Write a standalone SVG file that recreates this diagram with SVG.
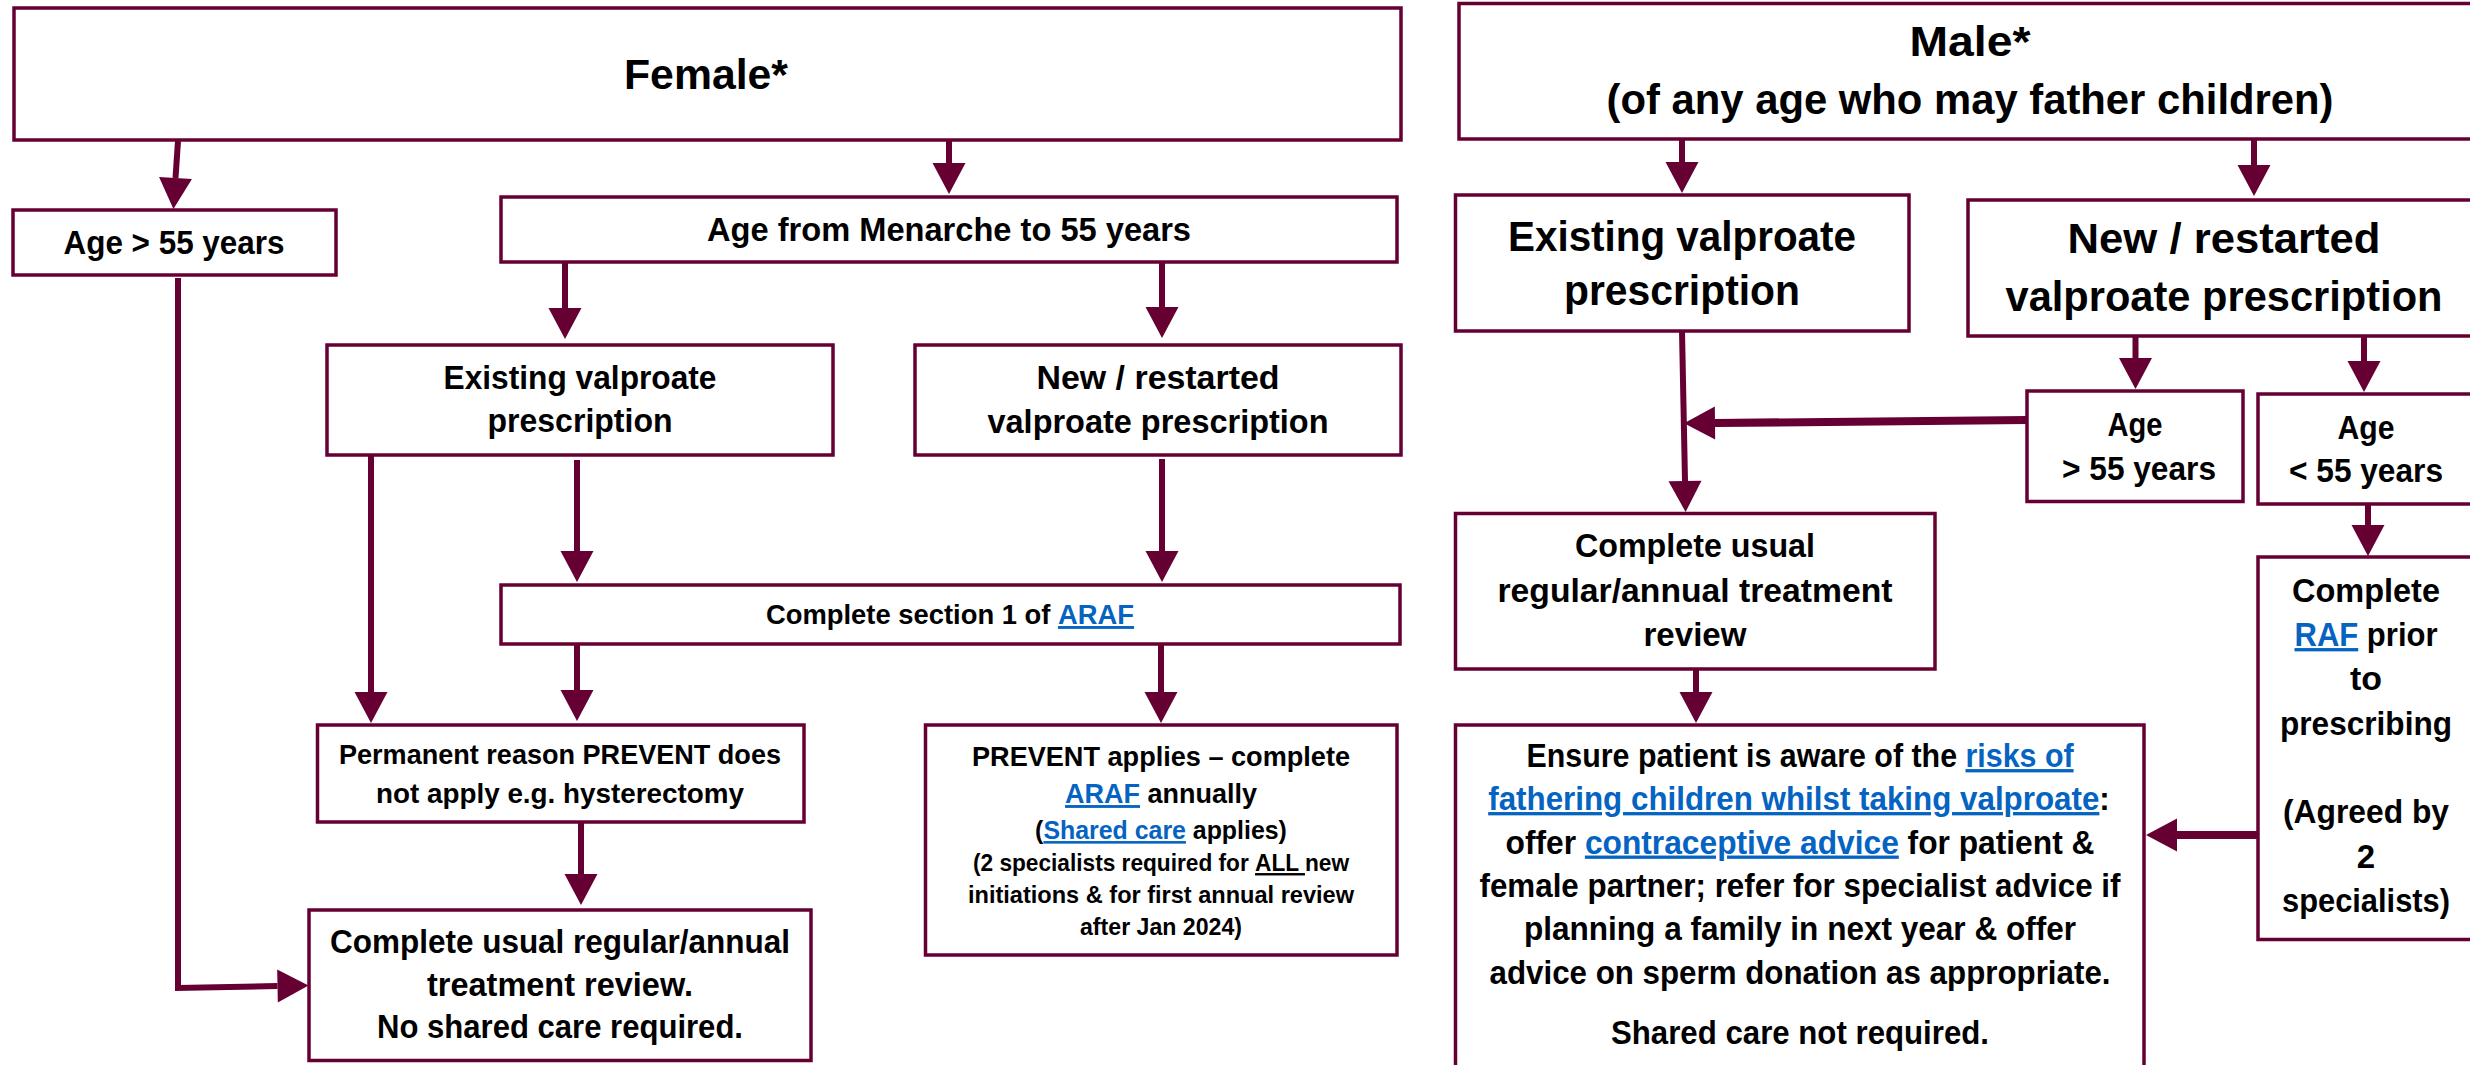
<svg xmlns="http://www.w3.org/2000/svg" width="2470" height="1065" viewBox="0 0 2470 1065">
<style>
.box{fill:#fff;stroke:#660033;stroke-width:3.5}
.t{font-family:'Liberation Sans',Arial,sans-serif;font-weight:bold;fill:#000;text-anchor:middle}
.h{font-size:42px}.m{font-size:33px}.s{font-size:28.5px}.s2{font-size:26px}.xs{font-size:24px}
.lk{fill:#0563C1;text-decoration:underline}
.ul{text-decoration:underline}
.c{stroke:#660033;stroke-width:6;fill:none;marker-end:url(#ah)}
.c8{stroke-width:8}
</style>
<defs>
<marker id="ah" markerUnits="userSpaceOnUse" viewBox="0 0 31 33" markerWidth="31" markerHeight="33" refX="0" refY="16.5" orient="auto" overflow="visible">
<path d="M0,0 L31,16.5 L0,33 z" fill="#660033"/>
</marker>
</defs>
<rect x="0" y="0" width="2470" height="1065" fill="#fff"/>

<g id="connectors">
<path class="c" d="M178,141 L175.5,178"/>
<path class="c" d="M949,141 L949,163"/>
<path class="c" d="M565,263 L565,308"/>
<path class="c" d="M1162,263 L1162,307"/>
<path class="c" d="M371,455 L371,692"/>
<path class="c" d="M577,460 L577,551"/>
<path class="c" d="M1162,459 L1162,551"/>
<path class="c" d="M577,644 L577,690"/>
<path class="c" d="M1161,644 L1161,692"/>
<path class="c" d="M581,822 L581,874"/>
<path class="c" d="M178,278 L178,988 L277.5,986"/>
<path class="c" d="M1682,139 L1682,162"/>
<path class="c" d="M2254,139 L2254,165"/>
<path class="c" d="M1682,331 L1685,481"/>
<path class="c c8" d="M2027,420 L1715,423"/>
<path class="c" d="M2135.5,336 L2135.5,358"/>
<path class="c" d="M2364,336 L2364,361"/>
<path class="c" d="M2368,504 L2368,525"/>
<path class="c c8" d="M2258,835 L2177,835"/>
<path class="c" d="M1696,669 L1696,692"/>
</g>

<g id="female">
<rect class="box" x="14" y="8" width="1387" height="132"/>
<text class="t h" x="706" y="89" textLength="164" lengthAdjust="spacingAndGlyphs">Female*</text>
</g>
<g id="female-age-over-55">
<rect class="box" x="13" y="210" width="323" height="65"/>
<text class="t m" x="174" y="254" textLength="221" lengthAdjust="spacingAndGlyphs">Age &gt; 55 years</text>
</g>
<g id="female-menarche">
<rect class="box" x="501" y="197" width="896" height="65"/>
<text class="t m" x="949" y="240.5" textLength="484" lengthAdjust="spacingAndGlyphs">Age from Menarche to 55 years</text>
</g>
<g id="female-existing">
<rect class="box" x="327" y="345" width="506" height="110"/>
<text class="t m" x="580" y="389" textLength="273" lengthAdjust="spacingAndGlyphs">Existing valproate</text>
<text class="t m" x="580" y="432" textLength="185" lengthAdjust="spacingAndGlyphs">prescription</text>
</g>
<g id="female-new">
<rect class="box" x="915" y="345" width="486" height="110"/>
<text class="t m" x="1158" y="389" textLength="243" lengthAdjust="spacingAndGlyphs">New / restarted</text>
<text class="t m" x="1158" y="433" textLength="341" lengthAdjust="spacingAndGlyphs">valproate prescription</text>
</g>
<g id="female-araf">
<rect class="box" x="501" y="585" width="899" height="59"/>
<text class="t s" transform="translate(950,624) scale(0.961,1)">Complete section 1 of <tspan class="lk">ARAF</tspan></text>
</g>
<g id="female-permanent">
<rect class="box" x="317.5" y="725" width="486.5" height="97"/>
<text class="t s" x="560" y="764" textLength="442" lengthAdjust="spacingAndGlyphs">Permanent reason PREVENT does</text>
<text class="t s" x="560" y="803" textLength="368" lengthAdjust="spacingAndGlyphs">not apply e.g. hysterectomy</text>
</g>
<g id="female-complete">
<rect class="box" x="309" y="910" width="502" height="150.5"/>
<text class="t m" x="560" y="953" textLength="460" lengthAdjust="spacingAndGlyphs">Complete usual regular/annual</text>
<text class="t m" x="560" y="996" textLength="266" lengthAdjust="spacingAndGlyphs">treatment review.</text>
<text class="t m" x="560" y="1038" textLength="366" lengthAdjust="spacingAndGlyphs">No shared care required.</text>
</g>
<g id="female-prevent">
<rect class="box" x="925.5" y="725" width="471.5" height="230"/>
<text class="t s" x="1161" y="765.5" textLength="378" lengthAdjust="spacingAndGlyphs">PREVENT applies – complete</text>
<text class="t s" transform="translate(1161,803) scale(0.947,1)"><tspan class="lk">ARAF</tspan> annually</text>
<text class="t s2" transform="translate(1161,839) scale(0.958,1)">(<tspan class="lk">Shared care</tspan> applies)</text>
<text class="t xs" transform="translate(1161,871) scale(0.945,1)">(2 specialists required for <tspan class="ul">ALL </tspan>new</text>
<text class="t xs" x="1161" y="903" textLength="386" lengthAdjust="spacingAndGlyphs">initiations &amp; for first annual review</text>
<text class="t xs" x="1161" y="935" textLength="162" lengthAdjust="spacingAndGlyphs">after Jan 2024)</text>
</g>

<g id="male">
<rect class="box" x="1459" y="3.5" width="1022" height="135.5"/>
<text class="t h" x="1970" y="56" textLength="121" lengthAdjust="spacingAndGlyphs">Male*</text>
<text class="t h" x="1970" y="114" textLength="727" lengthAdjust="spacingAndGlyphs">(of any age who may father children)</text>
</g>
<g id="male-existing">
<rect class="box" x="1455.5" y="195" width="453.5" height="136"/>
<text class="t h" x="1682" y="251" textLength="348" lengthAdjust="spacingAndGlyphs">Existing valproate</text>
<text class="t h" x="1682" y="305" textLength="236" lengthAdjust="spacingAndGlyphs">prescription</text>
</g>
<g id="male-new">
<rect class="box" x="1968" y="200" width="511" height="136"/>
<text class="t h" x="2224" y="253" textLength="313" lengthAdjust="spacingAndGlyphs">New / restarted</text>
<text class="t h" x="2224" y="311" textLength="437" lengthAdjust="spacingAndGlyphs">valproate prescription</text>
</g>
<g id="male-age-over-55">
<rect class="box" x="2027" y="391" width="216" height="110.5"/>
<text class="t m" x="2135" y="436" textLength="55" lengthAdjust="spacingAndGlyphs">Age</text>
<text class="t m" x="2139" y="479.5" textLength="154" lengthAdjust="spacingAndGlyphs">&gt; 55 years</text>
</g>
<g id="male-age-under-55">
<rect class="box" x="2258" y="394" width="217" height="110"/>
<text class="t m" x="2366" y="438.5" textLength="57" lengthAdjust="spacingAndGlyphs">Age</text>
<text class="t m" x="2366" y="481.5" textLength="154" lengthAdjust="spacingAndGlyphs">&lt; 55 years</text>
</g>
<g id="male-complete">
<rect class="box" x="1455.5" y="513.5" width="479.5" height="155.5"/>
<text class="t m" x="1695" y="557" textLength="240" lengthAdjust="spacingAndGlyphs">Complete usual</text>
<text class="t m" x="1695" y="601.5" textLength="395" lengthAdjust="spacingAndGlyphs">regular/annual treatment</text>
<text class="t m" x="1695" y="646" textLength="103" lengthAdjust="spacingAndGlyphs">review</text>
</g>
<g id="male-raf">
<rect class="box" x="2258" y="557" width="217" height="382.5"/>
<text class="t m" x="2366" y="602" textLength="148" lengthAdjust="spacingAndGlyphs">Complete</text>
<text class="t m" transform="translate(2366,646) scale(0.94,1)"><tspan class="lk">RAF</tspan> prior</text>
<text class="t m" x="2366" y="690" textLength="32" lengthAdjust="spacingAndGlyphs">to</text>
<text class="t m" x="2366" y="735" textLength="172" lengthAdjust="spacingAndGlyphs">prescribing</text>
<text class="t m" x="2366" y="823" textLength="166" lengthAdjust="spacingAndGlyphs">(Agreed by</text>
<text class="t m" x="2366" y="868">2</text>
<text class="t m" x="2366" y="912" textLength="168" lengthAdjust="spacingAndGlyphs">specialists)</text>
</g>
<g id="male-ensure">
<rect class="box" x="1455.5" y="725" width="688.5" height="360"/>
<text class="t m" transform="translate(1800,767) scale(0.921,1)">Ensure patient is aware of the <tspan class="lk">risks of</tspan></text>
<text class="t m" transform="translate(1799,810) scale(0.95,1)"><tspan class="lk">fathering children whilst taking valproate</tspan>:</text>
<text class="t m" transform="translate(1800,853.5) scale(0.962,1)">offer <tspan class="lk">contraceptive advice</tspan> for patient &amp;</text>
<text class="t m" x="1800" y="897" textLength="641" lengthAdjust="spacingAndGlyphs">female partner; refer for specialist advice if</text>
<text class="t m" x="1800" y="939.5" textLength="552" lengthAdjust="spacingAndGlyphs">planning a family in next year &amp; offer</text>
<text class="t m" x="1800" y="984" textLength="621" lengthAdjust="spacingAndGlyphs">advice on sperm donation as appropriate.</text>
<text class="t m" x="1800" y="1043.5" textLength="378" lengthAdjust="spacingAndGlyphs">Shared care not required.</text>
</g>
</svg>
